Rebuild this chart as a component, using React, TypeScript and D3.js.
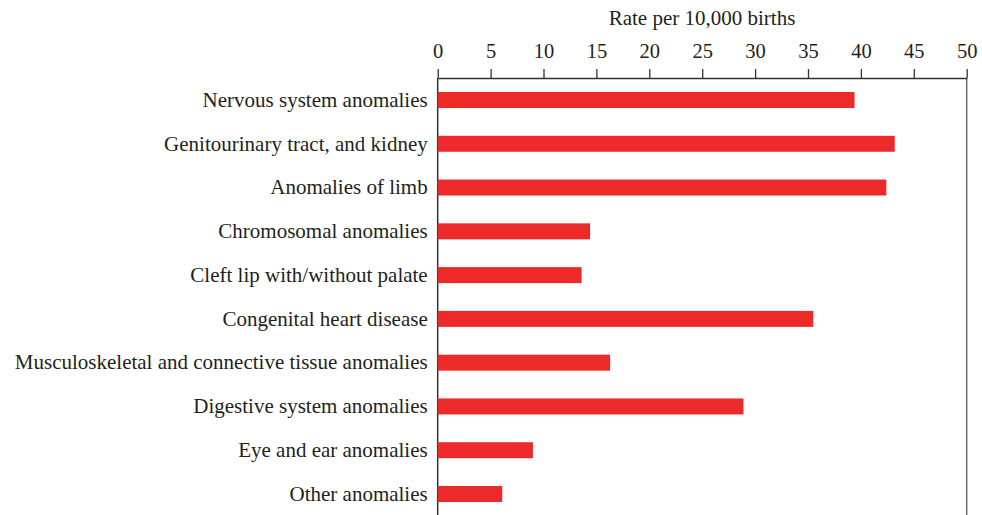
import React from "react";
import * as d3 from "d3";

const categories = [
  "Nervous system anomalies",
  "Genitourinary tract, and kidney",
  "Anomalies of limb",
  "Chromosomal anomalies",
  "Cleft lip with/without palate",
  "Congenital heart disease",
  "Musculoskeletal and connective tissue anomalies",
  "Digestive system anomalies",
  "Eye and ear anomalies",
  "Other anomalies",
];
const rates = [39.4, 43.2, 42.4, 14.4, 13.6, 35.5, 16.3, 28.9, 9.0, 6.1];
const xTicks = [0, 5, 10, 15, 20, 25, 30, 35, 40, 45, 50];
const axisTitle = "Rate per 10,000 births";

export default function App() {
  const width = 982;
  const height = 515;
  const left = 437.7;
  const right = 966.7;
  const top = 78;
  const font = "'Liberation Serif', 'Times New Roman', serif";
  const textColor = "#231f20";

  const svgRef = React.useRef<SVGSVGElement>(null);

  const x = d3.scaleLinear().domain([0, 50]).range([left, right]);
  const y = d3
    .scaleBand()
    .domain(categories)
    .range([top, 516])
    .paddingInner(0.635)
    .paddingOuter(0.32);

  React.useEffect(() => {
    const svg = d3.select(svgRef.current);

    const xAxis = d3
      .axisTop(x)
      .tickValues(xTicks)
      .tickSize(9)
      .tickSizeOuter(0)
      .tickPadding(11);

    svg
      .select<SVGGElement>(".x-axis")
      .attr("transform", `translate(0,${top})`)
      .call(xAxis)
      .call((g) => g.select(".domain").attr("stroke", "#333").attr("stroke-width", 1.3))
      .call((g) => g.selectAll(".tick line").attr("stroke", "#333").attr("stroke-width", 1.3))
      .selectAll("text")
      .style("font-family", font)
      .style("font-size", "20.5px")
      .attr("fill", textColor);

    const yAxis = d3.axisLeft(y).tickSize(0).tickPadding(10);

    svg
      .select<SVGGElement>(".y-axis")
      .attr("transform", `translate(${left},0)`)
      .call(yAxis)
      .call((g) => g.select(".domain").remove())
      .selectAll("text")
      .style("font-family", font)
      .style("font-size", "21px")
      .attr("fill", textColor);

    svg
      .selectAll(".bar")
      .data(rates)
      .join("rect")
      .attr("class", "bar")
      .attr("x", x(0))
      .attr("y", (d, i) => y(categories[i]) as number)
      .attr("width", (d) => x(d) - x(0))
      .attr("height", y.bandwidth())
      .attr("fill", "#ed2a2a");
  }, []);

  return (
    <svg
      ref={svgRef}
      width={width}
      height={height}
      style={{ position: "absolute", left: 0, top: 0, background: "#fff" }}
    >
      <g className="y-axis" />
      <g className="bars" />
      <line x1={left} x2={left} y1={top} y2={height} stroke="#333" strokeWidth={1.5} />
      <line x1={right} x2={right} y1={top} y2={height} stroke="#6b6b6b" strokeWidth={1.5} />
      <g className="x-axis" />
      <text
        x={702}
        y={25}
        textAnchor="middle"
        fontFamily={font}
        fontSize={21}
        fill={textColor}
      >
        {axisTitle}
      </text>
    </svg>
  );
}
